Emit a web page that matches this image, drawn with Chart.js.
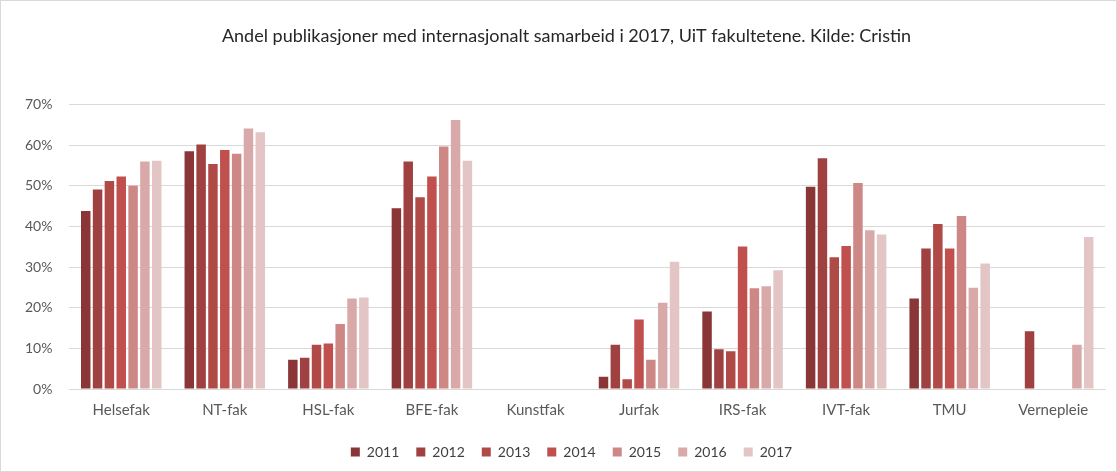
<!DOCTYPE html>
<html>
<head>
<meta charset="utf-8">
<script src="https://cdn.jsdelivr.net/npm/chart.js@4"></script>
<style>
    html, body { margin: 0; padding: 0; background: #fff; }
    #wrap { width: 1115px; height: 470px; border: 1px solid #d9d9d9; }
</style>
</head>
<body>
<div id="wrap"><canvas id="chart" width="1115" height="470"></canvas></div>
<script>
// data (share of publications, %)
const fakulteter = ['Helsefak', 'NT-fak', 'HSL-fak', 'BFE-fak', 'Kunstfak', 'Jurfak', 'IRS-fak', 'IVT-fak', 'TMU', 'Vernepleie']
const years = ['2011', '2012', '2013', '2014', '2015', '2016', '2017']

const v2011 = [43.8, 58.5, 7.2, 44.5, null, 3.0, 19.1, 49.8, 22.3, null]
const v2012 = [49.1, 60.2, 7.7, 56.0, null, 10.9, 9.8, 56.8, 34.6, 14.2]
const v2013 = [51.2, 55.4, 10.9, 47.2, null, 2.4, 9.3, 32.4, 40.6, null]
const v2014 = [52.3, 58.8, 11.2, 52.3, null, 17.1, 35.1, 35.2, 34.6, null]
const v2015 = [50.0, 57.9, 16.0, 59.7, null, 7.2, 24.8, 50.7, 42.6, null]
const v2016 = [56.0, 64.1, 22.3, 66.2, null, 21.2, 25.3, 39.1, 24.9, 10.9]
const v2017 = [56.2, 63.2, 22.5, 56.2, null, 31.3, 29.2, 38.0, 30.9, 37.4]

const yTicks = [0, 10, 20, 30, 40, 50, 60, 70]

const colors = ['#8a3536', '#9f4140', '#af4a47', '#c0504d', '#cd8886', '#d9a9a9', '#e3c5c5']
const allValues = [v2011, v2012, v2013, v2014, v2015, v2016, v2017]

const datasets = years.map((year, i) => {
    return {
        label: year,
        data: allValues[i],
        backgroundColor: colors[i],
        borderWidth: 0,
        barPercentage: 0.8,
        categoryPercentage: 0.8,
    }
})

// title and legend sit a bit right of centre in the original
const shiftBlocks = {
    id: 'shiftBlocks',
    afterLayout: (chart) => {
        chart.legend.left += 15
        chart.legend.right += 15
        chart.titleBlock.left += 10
        chart.titleBlock.right += 10
    },
}

const ctx = document.getElementById('chart')

new Chart(ctx, {
    type: 'bar',
    data: {
        labels: fakulteter,
        datasets: datasets,
    },
    plugins: [shiftBlocks],
    options: {
        responsive: false,
        animation: false,
        layout: {
            padding: { left: 7, right: 11, top: 0, bottom: 2 },
        },
        plugins: {
            title: {
                display: true,
                text: 'Andel publikasjoner med internasjonalt samarbeid i 2017, UiT fakultetene. Kilde: Cristin',
                color: '#262626',
                font: { family: 'Lato', size: 18, weight: 'normal' },
                padding: { top: 24, bottom: 58 },
            },
            legend: {
                position: 'bottom',
                labels: {
                    color: '#404040',
                    font: { family: 'Lato', size: 14 },
                    boxWidth: 9,
                    boxHeight: 9,
                    padding: 17,
                },
            },
            tooltip: { enabled: false },
        },
        scales: {
            x: {
                grid: { display: false },
                border: { color: '#d9d9d9', width: 1 },
                ticks: {
                    color: '#595959',
                    font: { family: 'Lato', size: 15 },
                    padding: 4,
                    maxRotation: 0,
                },
                afterFit: (axis) => {
                    axis.height += 5
                },
            },
            y: {
                min: 0,
                max: 70,
                afterBuildTicks: (axis) => {
                    axis.ticks = yTicks.map((v) => ({ value: v }))
                },
                grid: { color: '#d9d9d9', lineWidth: 1, drawTicks: false },
                border: { display: false },
                ticks: {
                    color: '#595959',
                    font: { family: 'Lato', size: 14 },
                    padding: 17,
                    callback: (v) => v + '%',
                },
            },
        },
    },
})
</script>
</body>
</html>
